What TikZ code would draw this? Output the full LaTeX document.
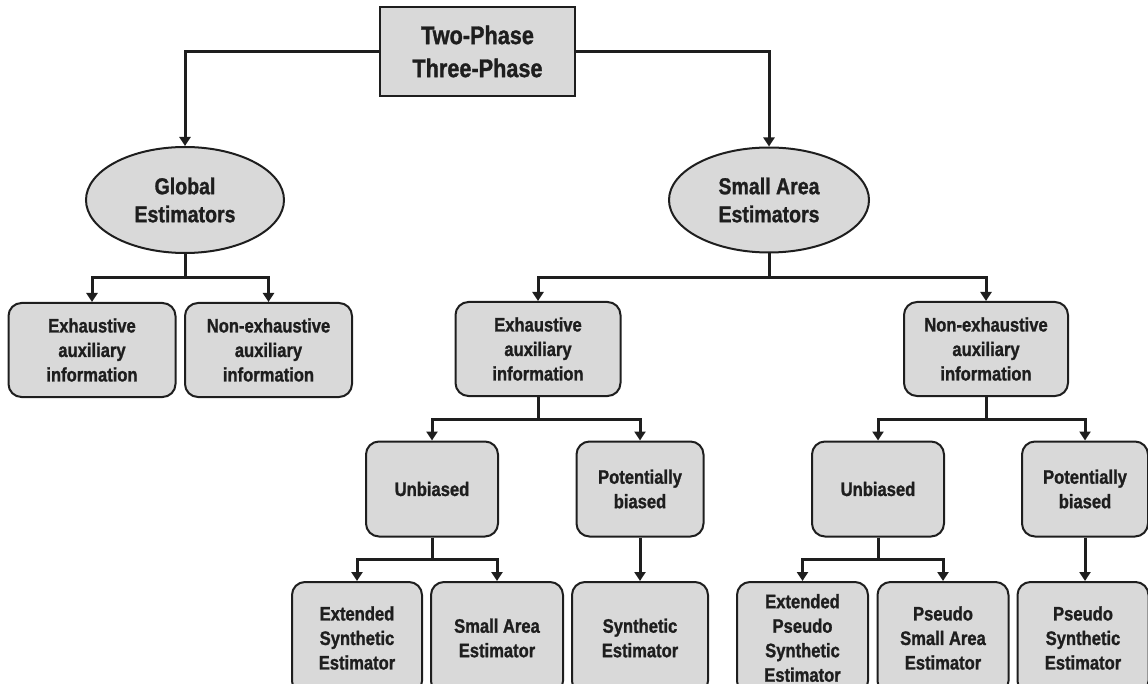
\documentclass[tikz,border=0pt]{standalone}
\usepackage{fontspec}
\setmainfont{Liberation Sans}[FakeStretch=0.85, BoldFeatures={FakeBold=1.2}]
\usetikzlibrary{shapes.geometric,arrows.meta}
\definecolor{boxfill}{HTML}{D9D9D9}
\definecolor{ink}{HTML}{1E1E1E}
\tikzset{
  base/.style={draw=ink, fill=boxfill, line width=2pt, text=ink, align=center, inner sep=0pt, font=\bfseries\fontsize{19.5}{24.5}\selectfont},
  topbox/.style={base, rectangle, font=\bfseries\fontsize{25.5}{33}\selectfont},
  ell/.style={base, ellipse, font=\bfseries\fontsize{23}{28}\selectfont},
  rbox/.style={base, rectangle, rounded corners=13pt},
  conn/.style={draw=ink, line width=3pt},
  arr/.style={conn, -{Triangle[length=9pt,width=11pt]}}
}
\begin{document}
\begin{tikzpicture}[x=1pt,y=-1pt]
\useasboundingbox (0,0) rectangle (1148,684);
\clip (0,0) rectangle (1148,684);
% nodes
\node[topbox, minimum width=195pt, minimum height=89pt] (top) at (477.5,51.5) {Two-Phase\\Three-Phase};
\node[ell, minimum width=198pt, minimum height=106pt] (gE) at (185,200) {Global\\Estimators};
\node[ell, minimum width=200pt, minimum height=105pt] (sE) at (769,200) {Small Area\\Estimators};
\node[rbox, minimum width=167pt, minimum height=94pt] (le1) at (92,350) {Exhaustive\\auxiliary\\information};
\node[rbox, minimum width=167pt, minimum height=94pt] (le2) at (268.5,350) {Non-exhaustive\\auxiliary\\information};
\node[rbox, minimum width=165pt, minimum height=94pt] (re1) at (538,349) {Exhaustive\\auxiliary\\information};
\node[rbox, minimum width=164pt, minimum height=94pt] (re2) at (986,349) {Non-exhaustive\\auxiliary\\information};
\node[rbox, minimum width=132pt, minimum height=95pt] (u1) at (432,489) {Unbiased};
\node[rbox, minimum width=127pt, minimum height=95pt] (p1) at (640,489) {Potentially\\biased};
\node[rbox, minimum width=132pt, minimum height=95pt] (u2) at (878,489) {Unbiased};
\node[rbox, minimum width=126pt, minimum height=95pt] (p2) at (1085,489) {Potentially\\biased};
\node[rbox, minimum width=130pt, minimum height=112pt] (b1) at (357,638) {Extended\\Synthetic\\Estimator};
\node[rbox, minimum width=132pt, minimum height=112pt] (b2) at (497,638) {Small Area\\Estimator};
\node[rbox, minimum width=136pt, minimum height=112pt] (b3) at (640,638) {Synthetic\\Estimator};
\node[rbox, minimum width=131pt, minimum height=112pt] (b4) at (802.5,638) {Extended\\Pseudo\\Synthetic\\Estimator};
\node[rbox, minimum width=131pt, minimum height=112pt] (b5) at (943,638) {Pseudo\\Small Area\\Estimator};
\node[rbox, minimum width=131pt, minimum height=112pt] (b6) at (1083,638) {Pseudo\\Synthetic\\Estimator};
% connectors
\draw[arr] (top.west) -| (gE.north);
\draw[arr] (top.east) -| (sE.north);
\draw[arr] (gE.south) -- (gE.south |- 0,278) -| (le1.north);
\draw[arr] (gE.south) -- (gE.south |- 0,278) -| (le2.north);
\draw[arr] (sE.south) -- (sE.south |- 0,278) -| (re1.north);
\draw[arr] (sE.south) -- (sE.south |- 0,278) -| (re2.north);
\draw[arr] (re1.south) -- (re1.south |- 0,419) -| (u1.north);
\draw[arr] (re1.south) -- (re1.south |- 0,419) -| (p1.north);
\draw[arr] (re2.south) -- (re2.south |- 0,419) -| (u2.north);
\draw[arr] (re2.south) -- (re2.south |- 0,419) -| (p2.north);
\draw[arr] (u1.south) -- (u1.south |- 0,559) -| (b1.north);
\draw[arr] (u1.south) -- (u1.south |- 0,559) -| (b2.north);
\draw[arr] (p1.south) -- (p1.south |- b3.north);
\draw[arr] (u2.south) -- (u2.south |- 0,559) -| (b4.north);
\draw[arr] (u2.south) -- (u2.south |- 0,559) -| (b5.north);
\draw[arr] (p2.south) -- (p2.south |- b6.north);
\end{tikzpicture}
\end{document}
